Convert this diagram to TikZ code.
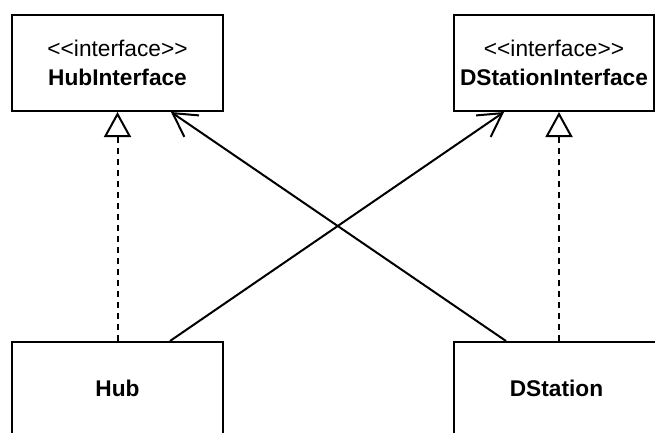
\documentclass[tikz,border=0pt]{standalone}
\usepackage{fontspec}
\setmainfont{Liberation Sans}
\usetikzlibrary{arrows.meta,calc}
\newcommand{\stereo}[1]{<\kern0pt<#1>\kern0pt>}
\begin{document}
\begin{tikzpicture}[x=1pt,y=-1pt,
  box/.style={draw,line width=2pt,rectangle,inner sep=0pt,align=center,
    font=\fontsize{22.7}{29}\selectfont},
  realize/.style={line width=2pt,dash pattern=on 6pt off 5pt,
    -{Triangle[open,length=25pt,width=27pt,line width=2pt,fill=white]}},
  assoc/.style={line width=2pt,-{Straight Barb[length=23pt,width=26pt,line width=2pt]}}]
\useasboundingbox (0,0) rectangle (655,432);
\node[box,minimum width=211pt,minimum height=96pt] (hubi) at (117.5,63)
  {\stereo{interface}\\\textbf{HubInterface}};
\node[box,minimum width=200pt,minimum height=96pt] (dsi) at (554,63)
  {\stereo{interface}\\\textbf{DStationInterface}};
\node[box,minimum width=211pt,minimum height=92pt] (hub) at (117.5,388)
  {\textbf{Hub}};
\node[box,minimum width=205pt,minimum height=92pt] (ds) at (556.5,388)
  {\textbf{DStation}};
\draw[realize] (hub.north) -- (hubi.south);
\draw[realize] ($(ds.north west)+(106,0)$) -- ($(dsi.south west)+(106,0)$);
\draw[assoc] ($(hub.north west)+(159,0)$) -- ($(dsi.south west)+(51,0)$);
\draw[assoc] ($(ds.north west)+(53,0)$) -- ($(hubi.south west)+(160,0)$);
\end{tikzpicture}
\end{document}
